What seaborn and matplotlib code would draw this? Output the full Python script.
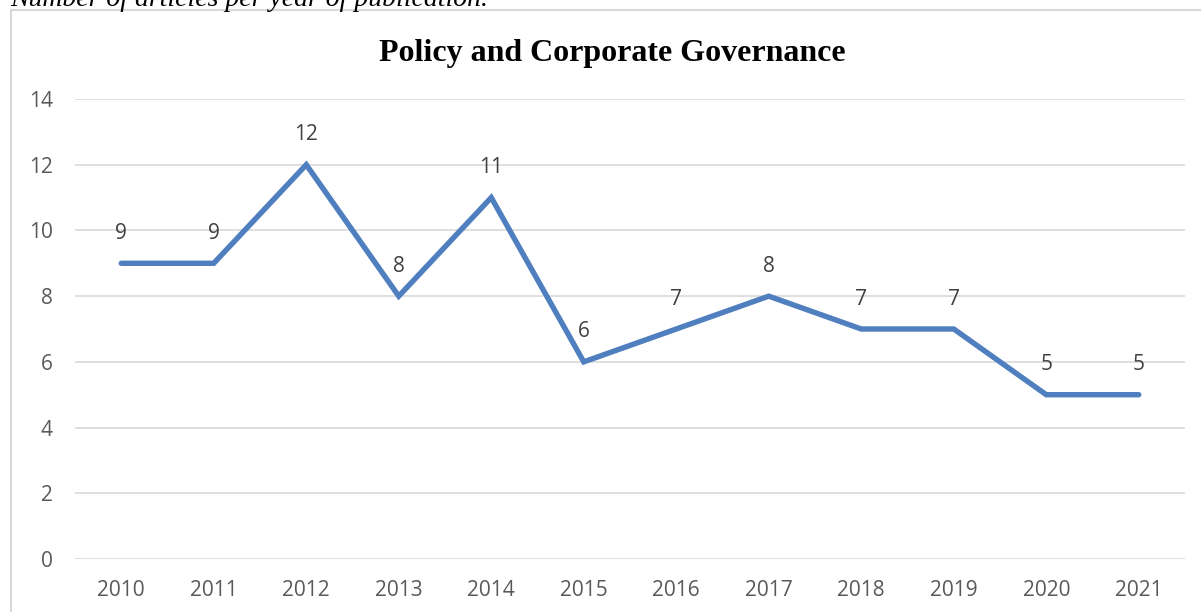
import matplotlib
matplotlib.use("Agg")
import matplotlib.pyplot as plt
from matplotlib.patches import Rectangle
import seaborn as sns
import pandas as pd

years = ["2010", "2011", "2012", "2013", "2014", "2015",
         "2016", "2017", "2018", "2019", "2020", "2021"]
articles = [9, 9, 12, 8, 11, 6, 7, 8, 7, 7, 5, 5]
y_ticks = [0, 2, 4, 6, 8, 10, 12, 14]

title = "Policy and Corporate Governance"
caption = "Number of articles per year of publication."

sns.set_theme(style="white")
plt.rcParams["font.family"] = ["Open Sans", "DejaVu Sans"]

W, H = 1201, 612
fig = plt.figure(figsize=(W / 100, H / 100), dpi=100)
fig.patch.set_facecolor("white")

# chart frame (runs off the right and bottom edges)
fig.patches.append(Rectangle((11 / W, -0.1), 1.2, (H - 9.5) / H + 0.1,
                             transform=fig.transFigure, fill=False,
                             edgecolor="#d9d9d9", linewidth=1.5))

ax = fig.add_axes([75 / W, (H - 559) / H, (1185 - 75) / W, (559 - 99) / H])
df = pd.DataFrame({"year": years, "articles": articles})
x = list(range(len(years)))
sns.lineplot(x=x, y=df["articles"], ax=ax, color="#4F7FBF",
             linewidth=3.9, solid_capstyle="round", solid_joinstyle="miter")

ax.set_xlim(-0.5, len(years) - 0.5)
ax.set_ylim(0, 14)
ax.set_yticks(y_ticks)
ax.set_xticks(x)
ax.set_xticklabels(years)
ax.grid(axis="y", color="#d9d9d9", linewidth=1.2)
ax.grid(axis="x", visible=False)
ax.set_axisbelow(True)
for s in ax.spines.values():
    s.set_visible(False)
ax.tick_params(axis="both", length=0, labelsize=15, labelcolor="#595959")
ax.tick_params(axis="x", pad=15)
ax.tick_params(axis="y", pad=16)
ax.set_xlabel("")
ax.set_ylabel("")

for xi, v in zip(x, articles):
    ax.annotate(str(v), (xi, v), xytext=(0, 21.5), textcoords="offset points",
                ha="center", va="center", fontsize=15, color="#404040")

fig.text(612 / W, 1 - 54 / H, title, ha="center", va="center",
         fontsize=23, fontweight="bold", family="Liberation Serif", color="black")
fig.text(10 / W, 1 - 6 / H, caption, ha="left", va="baseline",
         fontsize=20, style="italic", family="Liberation Serif", color="black")

fig.savefig("out.png", dpi=100, facecolor="white")
